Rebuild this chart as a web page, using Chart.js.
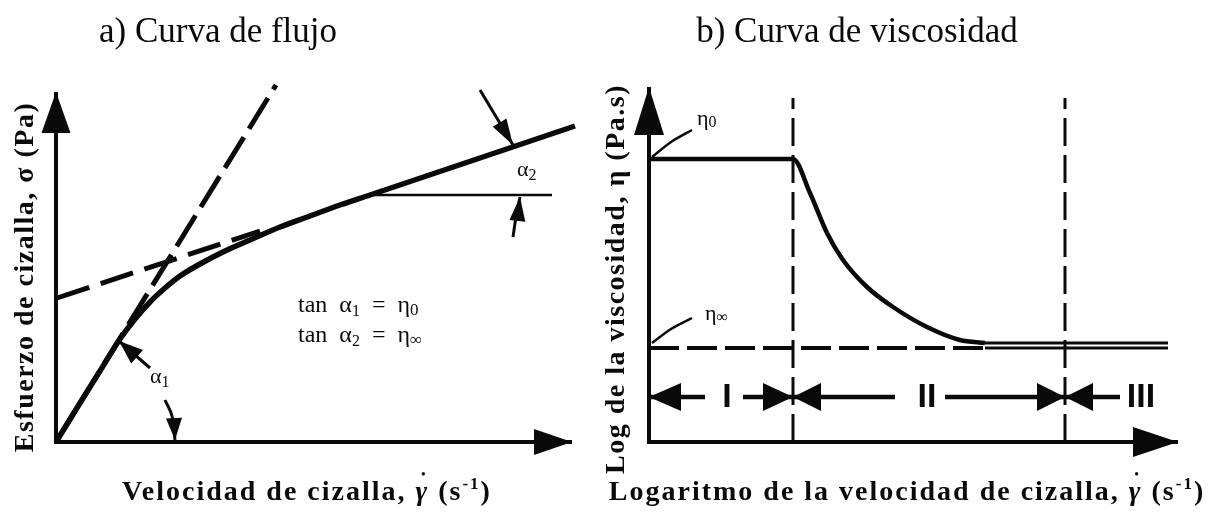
<!DOCTYPE html>
<html>
<head>
<meta charset="utf-8">
<script src="https://cdn.jsdelivr.net/npm/chart.js@4/dist/chart.umd.min.js"></script>
<style>
  html, body { margin: 0; padding: 0; background: #fff; }
  #wrap { position: relative; width: 1226px; height: 514px; overflow: hidden; background: #fff; }
  canvas { position: absolute; top: 0; }
  #flowChart { left: 0; }
  #viscChart { left: 595px; }
</style>
</head>
<body>
<div id="wrap">
  <canvas id="flowChart" width="600" height="514"></canvas>
  <canvas id="viscChart" width="631" height="514"></canvas>
</div>
<script>
// ---------- a) Flow curve: shear stress vs shear rate (arbitrary units) ----------
const flowRate   = [0, 2.4, 4.4, 6.4, 7.9, 9.4, 10.9, 12.4, 14.4, 16.9, 19.4, 22.4, 25.4, 28.4, 31.4, 51.9];
const flowStress = [0, 3.9, 7.1, 10.3, 12.3, 14.0, 15.4, 16.6, 17.8, 19.1, 20.2, 21.5, 22.6, 23.7, 24.7, 31.6];
// tangent at the origin (slope = eta0) and high-rate asymptote (slope = eta_inf)
const eta0LineRate     = [0, 22.0];
const eta0LineStress   = [0, 35.7];
const etaInfLineRate   = [0.1, 20.4];
const etaInfLineStress = [14.4, 21.1];
// horizontal reference for the angle alpha2
const alpha2RefRate    = [31.4, 49.6];
const alpha2RefStress  = [24.7, 24.7];
// axes of panel a
const flowAxisRate   = [0, 0, 51.6];
const flowAxisStress = [35.0, 0, 0];
// angle pointers
const alpha2UpperRate = [42.4, 45.7];   const alpha2UpperStress = [35.2, 29.7];
const alpha2LowerRate = [45.7, 46.0, 46.4]; const alpha2LowerStress = [20.5, 22.5, 24.5];
const alpha1CurveRate = [9.4, 6.3];     const alpha1CurveStress = [7.4, 10.1];
const alpha1AxisRate  = [10.9, 11.6, 11.9]; const alpha1AxisStress = [4.2, 2.6, 0.2];

// ---------- b) Viscosity curve: log viscosity vs log shear rate ----------
const logShearRate = [0, 14.4, 16.1, 17.8, 19.4, 21.8, 24.4, 27.8, 31.1, 33.6];
const logViscosity = [28.3, 28.3, 24.9, 20.9, 18.2, 15.5, 13.5, 11.5, 10.2, 9.9];
const plateauRate  = [33.6, 51.9];
const plateauVisc  = [9.9, 9.9];
const etaInfDashRate  = [0, 33.6];
const etaInfSolidRate = [33.6, 51.9];
const etaInfLevel     = [9.4, 9.4];
const regionBounds    = [14.4, 41.6];          // I | II | III
const regionBoundTop  = [0, 34.4];
const regionNames     = ['I', 'II', 'III'];
const regionLabelPos  = [7.8, 27.8, 49.2];
const regionRowLevel  = 4.5;
const regionShafts    = [[0, 5.6], [9.4, 14.4], [14.4, 24.6], [29.6, 41.6], [41.6, 47.1]];
const viscAxisRate = [0, 0, 52.9];
const viscAxisVisc = [35.5, 0, 0];
const eta0LeaderRate = [0.3, 2.2, 4.3];   const eta0LeaderVisc = [28.5, 30.0, 31.2];
const etaInfLeaderRate = [0.3, 2.2, 4.3]; const etaInfLeaderVisc = [9.9, 11.3, 12.4];

const INK = '#0a0a0a';
const SERIF = '"Liberation Serif", "Times New Roman", serif';
const pts = (xs, ys) => xs.map((x, i) => ({ x, y: ys[i] }));
function seg(xs, ys, style) {
  return Object.assign({
    data: pts(xs, ys), showLine: true, borderColor: INK, backgroundColor: INK,
    pointRadius: 0, borderWidth: 4, tension: 0, fill: false,
    borderCapStyle: 'butt', borderJoinStyle: 'miter', clip: false
  }, style || {});
}

// draws a sequence of text runs (sub/superscripts, overlaid dots)
function drawRuns(ctx, runs, x, y, align, spacing) {
  ctx.letterSpacing = spacing || '0px';
  const widths = runs.map(r => { ctx.font = r.f; return r.over ? 0 : ctx.measureText(r.t).width; });
  const total = widths.reduce((a, b) => a + b, 0);
  let cx = align === 'center' ? x - total / 2 : (align === 'right' ? x - total : x);
  let prevX = cx, prevW = 0;
  runs.forEach((r, i) => {
    ctx.font = r.f;
    if (r.over) {
      const w = ctx.measureText(r.t).width;
      ctx.fillText(r.t, prevX + prevW / 2 - w / 2 + (r.dx || 0), y + (r.dy || 0));
      return;
    }
    ctx.fillText(r.t, cx, y + (r.dy || 0));
    prevX = cx; prevW = widths[i];
    cx += widths[i];
  });
  ctx.letterSpacing = '0px';
}

// arrowheads and labels, placed through the chart scales
const sketchPlugin = {
  id: 'sketch',
  afterDatasetsDraw(chart, args, opts) {
    const ctx = chart.ctx, sx = chart.scales.x, sy = chart.scales.y;
    ctx.save();
    ctx.fillStyle = INK;
    (opts.heads || []).forEach(h => {
      const tx = sx.getPixelForValue(h.tip[0]), ty = sy.getPixelForValue(h.tip[1]);
      const fx = sx.getPixelForValue(h.from[0]), fy = sy.getPixelForValue(h.from[1]);
      const d = Math.hypot(tx - fx, ty - fy) || 1;
      const ux = (tx - fx) / d, uy = (ty - fy) / d;
      const bx = tx - ux * h.len, by = ty - uy * h.len;
      ctx.beginPath();
      ctx.moveTo(tx, ty);
      ctx.lineTo(bx - uy * h.half, by + ux * h.half);
      ctx.lineTo(bx + uy * h.half, by - ux * h.half);
      ctx.closePath();
      ctx.fill();
    });
    (opts.texts || []).forEach(t => {
      const px = t.pixel ? t.at[0] : sx.getPixelForValue(t.at[0]);
      const py = t.pixel ? t.at[1] : sy.getPixelForValue(t.at[1]);
      ctx.save();
      ctx.translate(px, py);
      if (t.rotate) ctx.rotate(t.rotate);
      ctx.textBaseline = t.baseline || 'alphabetic';
      ctx.textAlign = 'left';
      drawRuns(ctx, t.runs, 0, 0, t.align || 'left', t.spacing);
      ctx.restore();
    });
    ctx.restore();
  }
};

function baseOptions(xmin, xmax, ymin, ymax, sketch) {
  return {
    responsive: false, animation: false, events: [],
    layout: { padding: 0 },
    scales: {
      x: { type: 'linear', display: false, min: xmin, max: xmax },
      y: { type: 'linear', display: false, min: ymin, max: ymax }
    },
    plugins: { legend: { display: false }, tooltip: { enabled: false }, sketch }
  };
}

const B28 = 'bold 28px ' + SERIF, BI28 = 'italic bold 28px ' + SERIF, B16 = 'bold 17px ' + SERIF;
const R24 = '24px ' + SERIF, R22 = '22px ' + SERIF, R16 = '16px ' + SERIF, R17 = '17px ' + SERIF;
const R36 = '35px ' + SERIF;

// ---------- panel a ----------
new Chart(document.getElementById('flowChart'), {
  type: 'scatter',
  plugins: [sketchPlugin],
  data: { datasets: [
    seg(flowAxisRate, flowAxisStress, { borderWidth: 4 }),
    seg(eta0LineRate, eta0LineStress, { borderWidth: 5, borderDash: [36, 10] }),
    seg(etaInfLineRate, etaInfLineStress, { borderWidth: 5, borderDash: [34, 12] }),
    seg(flowRate, flowStress, { borderWidth: 5.5, cubicInterpolationMode: 'monotone' }),
    seg(alpha2RefRate, alpha2RefStress, { borderWidth: 2.5 }),
    seg(alpha2UpperRate, alpha2UpperStress, { borderWidth: 3 }),
    seg(alpha2LowerRate, alpha2LowerStress, { borderWidth: 3, tension: 0.4 }),
    seg(alpha1CurveRate, alpha1CurveStress, { borderWidth: 3 }),
    seg(alpha1AxisRate, alpha1AxisStress, { borderWidth: 3, tension: 0.4 })
  ] },
  options: baseOptions(-5.6, 54.4, -7.2, 44.2, {
    heads: [
      { tip: [0, 35.0], from: [0, 0], len: 41, half: 14.5 },
      { tip: [51.6, 0], from: [0, 0], len: 38, half: 13 },
      { tip: [45.7, 29.7], from: [42.4, 35.2], len: 26, half: 8 },
      { tip: [46.4, 24.5], from: [46.1, 21.8], len: 24, half: 8 },
      { tip: [6.3, 10.1], from: [9.4, 7.4], len: 24, half: 9 },
      { tip: [11.9, 0.2], from: [11.8, 2.4], len: 22, half: 8 }
    ],
    texts: [
      { pixel: true, at: [218, 42], align: 'center', runs: [{ t: 'a) Curva de flujo', f: R36 }] },
      { pixel: true, at: [307, 500], align: 'center', spacing: '2px', runs: [
        { t: 'Velocidad de cizalla, ', f: B28 }, { t: 'γ', f: BI28 },
        { t: '•', f: 'bold 12px ' + SERIF, over: true, dy: -22, dx: 2 },
        { t: ' (s', f: B28 }, { t: '-1', f: B16, dy: -11 }, { t: ')', f: B28 } ] },
      { pixel: true, at: [33, 277], rotate: -Math.PI / 2, align: 'center', spacing: '1.5px',
        runs: [{ t: 'Esfuerzo de cizalla, σ (Pa)', f: B28 }] },
      { at: [24.2, 13.0], runs: [{ t: 'tan  α', f: R24 }, { t: '1', f: R16, dy: 4 }, { t: '  =  η', f: R24 }, { t: '0', f: R17, dy: 3 }] },
      { at: [24.2, 10.0], runs: [{ t: 'tan  α', f: R24 }, { t: '2', f: R16, dy: 4 }, { t: '  =  η', f: R24 }, { t: '∞', f: R17, dy: 3 }] },
      { at: [9.4, 5.9], runs: [{ t: 'α', f: R22 }, { t: '1', f: R16, dy: 4 }] },
      { at: [46.1, 26.6], runs: [{ t: 'α', f: R22 }, { t: '2', f: R16, dy: 4 }] }
    ]
  })
});

// ---------- panel b ----------
const viscSets = [
  seg(viscAxisRate, viscAxisVisc, { borderWidth: 4 }),
  seg(etaInfDashRate, etaInfLevel, { borderWidth: 4, borderDash: [30, 8] }),
  seg(etaInfSolidRate, etaInfLevel, { borderWidth: 3 }),
  seg(logShearRate, logViscosity, { borderWidth: 4.5, cubicInterpolationMode: 'monotone' }),
  seg(plateauRate, plateauVisc, { borderWidth: 3 }),
  seg(eta0LeaderRate, eta0LeaderVisc, { borderWidth: 2.5, tension: 0.3 }),
  seg(etaInfLeaderRate, etaInfLeaderVisc, { borderWidth: 2.5, tension: 0.3 })
];
regionBounds.forEach(b => viscSets.push(seg([b, b], regionBoundTop, { borderWidth: 3, borderDash: [28, 9] })));
regionShafts.forEach(s => viscSets.push(seg(s, [regionRowLevel, regionRowLevel], { borderWidth: 4.5 })));

const regionHeads = [
  { tip: [0, regionRowLevel], from: [5, regionRowLevel], len: 32, half: 14 },
  { tip: [regionBounds[0], regionRowLevel], from: [0, regionRowLevel], len: 30, half: 14 },
  { tip: [regionBounds[0], regionRowLevel], from: [30, regionRowLevel], len: 28, half: 14 },
  { tip: [regionBounds[1], regionRowLevel], from: [20, regionRowLevel], len: 28, half: 14 },
  { tip: [regionBounds[1], regionRowLevel], from: [50, regionRowLevel], len: 28, half: 14 }
];
const regionTexts = regionNames.map((n, i) => ({
  at: [regionLabelPos[i], regionRowLevel], align: 'center', baseline: 'middle',
  runs: [{ t: n, f: 'bold 34px "Liberation Sans", Arial, sans-serif', dy: 1 }]
}));

new Chart(document.getElementById('viscChart'), {
  type: 'scatter',
  plugins: [sketchPlugin],
  data: { datasets: viscSets },
  options: baseOptions(-5.4, 57.7, -7.2, 44.2, {
    heads: [
      { tip: [0, 35.5], from: [0, 0], len: 48, half: 15 },
      { tip: [52.9, 0], from: [0, 0], len: 45, half: 15 }
    ].concat(regionHeads),
    texts: [
      { pixel: true, at: [262, 42], align: 'center', runs: [{ t: 'b) Curva de viscosidad', f: R36 }] },
      { pixel: true, at: [312, 500], align: 'center', spacing: '2px', runs: [
        { t: 'Logaritmo de la velocidad de cizalla, ', f: B28 }, { t: 'γ', f: BI28 },
        { t: '•', f: 'bold 12px ' + SERIF, over: true, dy: -22, dx: 2 },
        { t: ' (s', f: B28 }, { t: '-1', f: B16, dy: -11 }, { t: ')', f: B28 } ] },
      { pixel: true, at: [29, 279], rotate: -Math.PI / 2, align: 'center', spacing: '1.5px',
        runs: [{ t: 'Log de la viscosidad, η (Pa.s)', f: B28 }] },
      { at: [4.8, 31.7], runs: [{ t: 'η', f: R22 }, { t: '0', f: R16, dy: 2 }] },
      { at: [5.6, 12.2], runs: [{ t: 'η', f: R22 }, { t: '∞', f: R16, dy: 2 }] }
    ].concat(regionTexts)
  })
});
</script>
</body>
</html>
